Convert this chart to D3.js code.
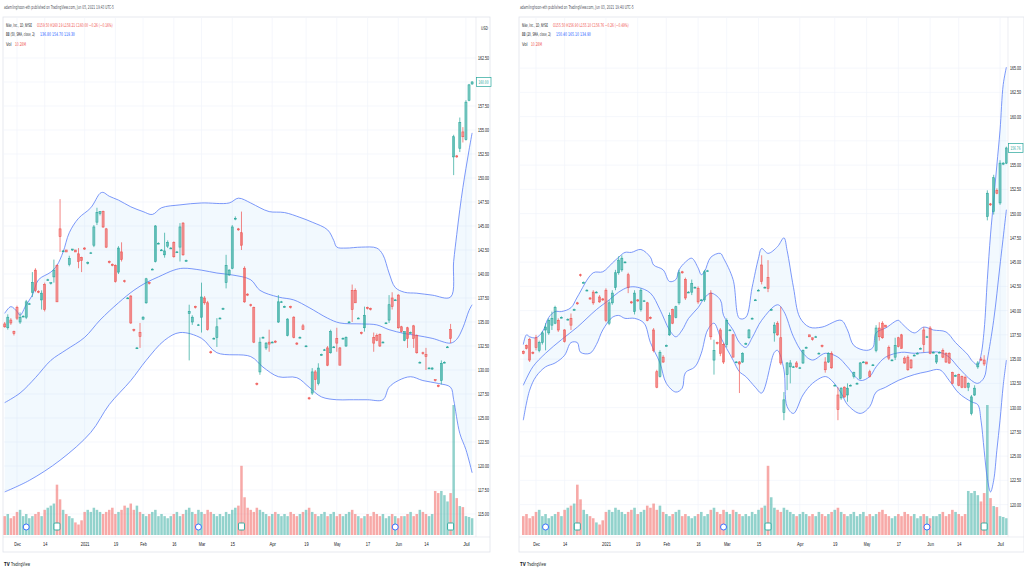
<!DOCTYPE html>
<html>
<head>
<meta charset="utf-8">
<script src="https://cdn.jsdelivr.net/npm/d3@7"></script>
<style>
body { margin: 0; background: #fff; }
svg { display: block; font-family: "Liberation Sans Narrow", "DejaVu Sans Condensed", Roboto, sans-serif; }
</style>
</head>
<body>
<svg id="chart" width="1024" height="576"></svg>
<script>
// ---- data ----
var tickLabels = ['Dec', '14', '2021', '19', 'Feb', '16', 'Mar', '15', 'Apr', '19', 'May', '17', 'Jun', '14', 'Jul'];
var tickBars = [4, 13, 26, 36, 45, 55, 64, 74, 87, 98, 108, 118, 128, 137, 150];
var dividendBars = [7, 63, 127];
var earningsBars = [17, 77, 145];

var leftPriceTicks = [115, 117.5, 120, 122.5, 125, 127.5, 130, 132.5, 135, 137.5, 140, 142.5, 145, 147.5, 150, 152.5, 155, 157.5, 160, 162.5];
var rightPriceTicks = [120, 122.5, 125, 127.5, 130, 132.5, 135, 137.5, 140, 142.5, 145, 147.5, 150, 152.5, 155, 157.5, 160, 162.5, 165];

// volume in millions, one per bar
var volume = [9, 10, 8, 9, 11, 12, 9, 10, 8, 9,
    10, 11, 9, 12, 13, 14, 15, 24, 17, 12,
    10, 9, 8, 6, 5, 7, 11, 12, 11, 13,
    12, 11, 10, 11, 12, 13, 10, 11, 12, 14,
    13, 15, 12, 14, 11, 10, 9, 10, 11, 12,
    9, 10, 9, 8, 9, 10, 11, 9, 10, 12,
    13, 11, 10, 12, 11, 10, 12, 11, 10, 9,
    10, 9, 11, 10, 12, 13, 14, 33, 18, 13,
    12, 11, 13, 12, 11, 10, 9, 10, 11, 10,
    9, 10, 9, 11, 10, 9, 10, 11, 12, 13,
    11, 10, 9, 10, 11, 9, 10, 11, 9, 10,
    9, 10, 11, 12, 10, 9, 8, 9, 10, 9,
    11, 10, 9, 10, 8, 9, 10, 9, 8, 9,
    9, 10, 11, 9, 10, 12, 11, 10, 9, 10,
    21, 20, 21, 19, 16, 20, 62, 17.6, 13.8, 13.3,
    9, 8.6, 8];

// [open, high, low, close]
var leftCandles = [
    [134.8,135.0,134.4,134.5],[134.4,135.8,134.2,135.5],[135.2,135.4,134.7,134.9],[134.0,134.1,133.6,133.8],[136.5,136.7,135.2,135.4],
    [135.0,136.0,134.8,135.5],[135.6,135.7,135.5,135.6],[135.5,137.3,135.3,137.1],[136.9,137.0,136.8,136.9],[138.1,140.2,137.6,139.1],
    [140.4,140.6,138.1,138.3],[138.2,138.3,138.0,138.1],[137.3,138.3,136.3,138.0],[138.9,139.1,136.1,136.3],[139.4,139.5,139.3,139.4],
    [139.0,139.1,138.9,139.1],[139.7,141.5,139.1,140.4],[140.9,141.0,137.1,137.1],[144.7,147.8,142.3,143.9],[142.4,142.5,142.3,142.4],
    [142.5,142.5,142.3,142.3],[141.0,141.9,140.8,141.6],[142.5,142.6,142.4,142.6],[142.5,142.5,142.3,142.3],[142.1,142.7,140.6,141.3],
    [141.7,141.8,140.2,141.4],[142.7,142.8,142.5,142.6],[141.1,141.3,141.0,141.2],[142.2,142.3,142.1,142.2],[143.0,145.1,142.8,144.9],
    [145.4,146.9,145.1,146.4],[146.3,146.5,146.1,146.5],[146.5,146.6,144.8,144.9],[144.7,144.8,142.7,142.8],[141.3,141.4,141.1,141.2],
    [141.0,141.1,140.8,140.9],[140.9,141.0,139.1,139.2],[140.2,142.9,140.0,142.7],[142.3,143.3,141.3,141.5],[139.3,139.4,139.1,139.2],
    [137.5,137.6,137.4,137.5],[137.7,137.8,134.8,134.9],[134.2,134.3,134.0,134.1],[132.3,132.4,132.2,132.3],[133.9,134.9,132.3,133.5],
    [135.3,135.6,135.2,135.5],[137.0,139.6,136.9,139.5],[139.1,139.2,138.9,139.0],[140.5,140.6,140.4,140.5],[141.3,145.1,141.2,145.0],
    [143.2,143.3,143.1,143.2],[142.5,142.6,142.4,142.5],[142.0,144.3,141.7,142.4],[142.9,143.5,142.7,143.3],[142.7,142.8,142.6,142.7],
    [143.3,143.4,141.7,141.8],[142.3,142.4,142.2,142.3],[142.8,145.3,141.3,144.9],[145.3,145.4,141.9,142.0],[141.4,141.5,141.3,141.4],
    [135.9,136.8,131.0,136.1],[135.0,135.7,134.7,135.5],[136.6,136.7,136.4,136.5],[134.7,134.8,134.6,134.7],[135.5,139.1,133.9,137.6],
    [137.5,137.7,136.8,137.0],[137.0,137.2,134.1,134.2],[131.9,132.0,131.7,131.8],[133.3,133.4,133.2,133.3],[133.4,135.4,132.4,134.5],
    [135.4,135.5,135.3,135.4],[136.4,136.5,136.3,136.4],[139.1,142.0,138.5,140.9],[139.9,140.5,139.8,140.4],[140.6,145.1,140.5,144.9],
    [145.8,146.0,145.6,145.8],[144.7,144.8,144.5,144.6],[144.3,146.5,142.5,143.0],[140.6,140.8,137.0,137.1],[137.9,138.0,137.7,137.8],
    [136.8,136.9,136.6,136.7],[136.5,136.6,132.8,132.9],[128.6,128.7,128.4,128.5],[129.8,133.4,129.5,132.9],[133.4,133.5,133.3,133.4],
    [132.3,132.9,132.1,132.8],[132.9,134.2,131.9,132.7],[132.9,133.0,132.8,132.9],[133.0,133.1,132.8,132.9],[135.0,137.8,134.9,137.1],
    [137.1,137.2,137.0,137.1],[136.6,136.7,136.5,136.6],[133.6,135.4,133.5,135.3],[136.6,136.7,136.4,136.5],[135.5,135.6,133.3,133.4],
    [132.8,132.9,132.6,132.7],[133.4,133.5,133.3,133.4],[134.6,134.8,134.2,134.2],[132.5,132.6,132.4,132.5],[127.1,127.2,126.9,127.0],
    [127.6,130.2,127.4,129.8],[129.8,130.0,127.9,129.0],[128.6,130.7,128.4,130.2],[131.6,131.7,131.5,131.6],[132.1,132.2,132.0,132.1],
    [132.3,132.5,130.4,130.5],[131.8,134.2,131.7,134.0],[132.4,132.5,132.3,132.4],[133.3,134.4,131.9,132.8],[132.3,132.4,130.5,130.5],
    [133.3,133.4,133.2,133.3],[132.5,133.5,132.4,133.4],[135.0,135.1,134.9,135.0],[138.3,138.9,135.0,136.3],[138.3,138.5,137.0,137.0],
    [135.4,135.5,135.3,135.4],[133.9,134.0,133.7,133.8],[134.4,136.6,134.0,135.7],[136.5,136.6,136.3,136.4],[136.4,136.5,136.2,136.3],
    [133.4,133.9,131.9,132.8],[133.6,133.8,133.0,133.1],[133.7,133.8,132.4,132.5],[132.9,133.0,132.8,132.9],[134.9,135.0,134.8,134.9],
    [135.2,137.8,134.9,136.8],[137.5,138.1,136.3,136.6],[137.3,137.4,137.2,137.3],[137.8,137.9,134.3,134.4],[134.5,134.6,133.9,134.0],
    [133.1,134.0,133.0,134.0],[134.4,134.5,132.3,133.3],[133.9,134.0,133.8,133.9],[134.6,134.7,132.3,133.3],[133.6,133.7,131.7,131.8],
    [130.8,130.9,130.7,130.8],[131.8,131.9,131.6,131.7],[131.6,132.3,130.0,131.4],[130.2,130.3,130.1,130.2],[130.1,130.3,130.0,130.2],
    [129.0,129.0,128.8,128.9],[128.4,128.5,128.2,128.3],[128.9,131.0,128.5,130.7],[130.8,130.9,130.7,130.8],[132.4,132.5,132.3,132.4],
    [134.2,134.8,132.8,133.3],[152.2,154.5,150.3,154.3],[152.3,152.4,152.1,152.2],[153.1,156.3,152.7,155.8],[154.8,155.3,153.7,154.3],
    [154.0,158.1,153.9,157.9],[158.1,159.8,158.0,159.7],[159.8,160.1,159.7,160.0]
];

var rightCandles = [
    [135.8,135.9,135.5,135.6],[136.4,136.5,136.0,136.1],[137.0,137.2,134.7,134.9],[135.7,135.8,135.5,135.6],[137.2,137.5,135.9,136.2],
    [135.9,136.9,135.7,136.7],[136.7,137.9,136.5,137.7],[138.0,138.7,135.9,138.3],[137.7,139.2,137.5,139.0],[138.5,139.9,138.0,139.2],
    [138.7,140.5,138.6,140.3],[139.0,139.2,137.8,138.0],[139.3,139.4,139.2,139.3],[138.0,138.1,136.7,136.8],[139.1,139.2,139.0,139.1],
    [139.2,139.7,138.0,138.5],[140.1,140.2,140.0,140.1],[140.8,140.9,140.6,140.7],[143.7,143.8,143.5,143.6],[142.9,143.0,142.8,142.9],
    [142.1,142.2,142.0,142.1],[141.3,141.4,141.1,141.2],[141.9,142.1,140.6,140.8],[141.9,142.0,141.8,141.9],[141.4,141.6,140.8,140.9],
    [141.2,141.3,141.0,141.1],[142.1,142.3,138.8,139.0],[138.7,141.1,138.5,140.8],[140.8,142.1,140.6,141.8],[142.4,144.2,142.1,143.9],
    [143.9,145.6,143.7,145.2],[144.2,145.7,144.0,145.4],[145.0,145.1,144.9,145.0],[143.7,143.9,141.8,142.4],[140.9,141.0,140.7,140.8],
    [139.9,142.1,139.6,141.8],[141.1,141.2,140.9,141.0],[140.1,142.3,139.9,142.1],[141.0,141.1,140.9,141.0],[140.8,140.9,138.9,139.0],
    [139.3,139.4,139.1,139.2],[138.0,138.2,135.7,135.9],[133.7,133.9,132.0,132.1],[133.2,135.9,133.1,135.7],[135.2,135.4,134.6,134.7],
    [136.4,136.5,136.3,136.4],[137.5,139.8,137.4,139.5],[140.1,140.2,138.6,138.7],[139.3,140.5,139.2,140.4],[140.8,144.2,140.6,143.9],
    [144.0,144.1,143.8,143.9],[143.2,143.4,141.1,141.3],[141.9,142.0,141.8,141.9],[141.9,143.2,141.6,142.8],[142.4,142.5,142.3,142.4],
    [142.3,142.5,140.7,140.9],[141.1,141.2,141.0,141.1],[141.1,144.2,140.9,144.0],[144.1,144.2,144.0,144.1],[141.8,142.1,137.0,137.3],
    [134.9,137.0,133.4,135.9],[136.7,136.8,136.5,136.6],[138.0,138.2,135.3,135.6],[136.5,136.7,134.5,134.7],[136.5,139.2,136.2,139.0],
    [138.0,138.1,137.9,138.0],[137.5,137.6,135.2,135.2],[134.7,134.8,134.6,134.7],[134.7,134.8,131.5,134.5],[134.7,135.7,134.6,135.6],
    [136.6,136.7,136.5,136.6],[137.2,138.1,137.1,138.0],[139.2,139.3,139.1,139.2],[141.1,141.2,141.0,141.1],[142.1,142.2,142.0,142.1],
    [144.7,145.7,142.7,143.0],[142.4,142.5,142.3,142.4],[143.4,145.2,141.9,142.3],[140.1,140.2,140.0,140.1],[137.7,138.8,136.8,138.5],
    [138.7,138.9,137.4,137.5],[137.2,140.4,134.4,134.6],[129.5,131.6,128.7,130.8],[133.4,134.7,131.8,134.6],[134.2,134.9,132.5,134.6],
    [134.2,134.3,134.1,134.2],[134.6,134.8,134.1,134.2],[134.1,134.2,134.0,134.1],[134.6,136.0,134.5,135.9],[136.2,136.3,136.1,136.2],
    [137.5,137.5,137.3,137.3],[137.2,137.2,136.9,137.0],[137.3,137.4,137.2,137.3],[135.6,135.7,135.5,135.6],[136.4,136.5,136.2,136.3],
    [134.7,135.2,133.6,133.9],[134.7,135.7,134.6,135.6],[135.6,135.8,134.0,134.1],[132.3,132.4,132.2,132.3],[131.3,132.1,128.7,129.8],
    [131.0,132.1,130.8,132.0],[132.1,132.2,131.0,131.1],[131.3,132.5,130.6,132.0],[132.3,132.4,132.2,132.3],[133.2,133.7,133.0,133.6],
    [132.5,132.6,132.4,132.5],[133.0,134.7,132.9,134.6],[134.7,134.8,134.6,134.7],[134.7,134.7,134.5,134.5],[133.7,133.9,133.1,133.2],
    [134.4,134.5,134.3,134.4],[135.9,138.5,135.7,138.2],[138.2,138.8,136.9,137.3],[138.7,138.9,137.1,137.2],[138.5,138.5,138.3,138.3],
    [136.2,136.4,134.9,135.1],[134.9,135.0,134.8,134.9],[135.2,137.2,134.9,136.4],[137.2,137.3,136.2,136.3],[137.5,137.6,136.1,136.1],
    [135.1,135.3,134.5,134.6],[135.2,135.4,133.8,133.9],[134.9,135.0,134.0,134.1],[135.4,135.5,135.3,135.4],[135.6,135.7,135.5,135.6],
    [136.1,136.2,136.0,136.1],[138.0,138.3,135.7,136.5],[137.3,137.4,137.2,137.3],[138.2,138.4,135.5,135.6],[135.7,135.8,135.6,135.7],
    [134.7,135.5,134.5,135.4],[135.7,135.8,135.6,135.7],[135.9,136.1,135.1,135.2],[135.6,135.7,134.6,134.7],[135.6,135.7,134.5,134.6],
    [133.6,133.7,132.4,132.5],[133.3,133.4,133.2,133.3],[133.4,133.5,132.2,132.3],[133.2,133.3,132.0,132.1],[133.1,133.3,132.0,132.1],
    [132.1,132.6,131.7,132.5],[129.4,131.3,129.2,131.1],[131.3,132.3,131.2,132.0],[134.2,134.8,134.0,134.6],[135.0,135.2,134.8,134.9],
    [134.9,135.4,134.3,134.5],[149.7,152.4,149.3,152.1],[151.0,151.1,150.8,150.9],[150.2,154.0,149.9,153.7],[152.4,152.6,152.0,152.1],
    [151.1,155.5,150.9,155.2],[155.1,155.3,155.0,155.2],[155.2,156.9,155.1,156.76]
];

// Bollinger band key points: [bar, price]
var leftUpper = [[0,135.9],[2,136.6],[4,136.1],[5,135.7],[7,136.8],[9,137.8],[11,139.4],[15,140.2],[17,140.9],[19,142.3],[21,144.3],[24,145.8],[28,146.9],[31,148.4],[32,148.5],[34,148.1],[37,147.7],[41,147.0],[45,146.5],[48,146.2],[51,146.9],[57,147.2],[64,147.4],[73,147.4],[76,147.9],[80,147.4],[83,146.9],[86,146.5],[91,146.4],[96,145.9],[100,145.4],[105,144.6],[107,143.5],[108,142.8],[111,142.7],[116,142.8],[121,142.7],[123,142.0],[125,140.1],[127,138.6],[130,138.1],[134,138.0],[139,137.8],[145,137.6],[146,141.3],[147,144.1],[148,146.7],[149,149.0],[150,151.0],[151,152.9],[152,154.7]];
var leftMiddle = [[0,126.6],[5,127.6],[10,129.2],[15,131.0],[20,132.1],[26,133.4],[31,135.2],[37,137.0],[42,138.3],[46,139.1],[50,139.7],[55,140.4],[58,140.6],[64,140.4],[69,140.1],[74,139.9],[80,139.4],[83,138.3],[89,137.6],[94,137.3],[99,136.5],[105,135.4],[109,134.9],[116,134.8],[121,134.7],[125,134.2],[130,133.8],[134,133.6],[139,133.3],[145,132.8],[147,133.2],[149,134.4],[151,136.2],[152,136.8]];
var leftLower = [[0,117.3],[8,118.5],[18,120.6],[28,123.5],[34,126.4],[41,128.9],[46,131.0],[52,133.1],[57,133.9],[64,133.3],[69,131.8],[80,131.4],[84,130.3],[89,129.3],[95,129.2],[99,128.2],[103,127.2],[108,126.9],[112,126.9],[118,126.9],[123,126.9],[125,128.2],[128,128.9],[132,129.3],[136,128.9],[141,128.6],[145,128.2],[146,126.9],[148,123.4],[150,121.7],[152,119.3]];

var rightUpper = [[0,136.5],[1,137.5],[2,137.3],[4,137.2],[6,137.8],[8,139.3],[10,139.9],[12,139.9],[15,140.3],[17,141.4],[22,143.9],[25,144.0],[28,144.9],[30,145.5],[32,146.0],[34,146.0],[37,146.3],[40,145.5],[41,144.7],[44,144.2],[46,143.0],[48,143.2],[49,144.2],[51,145.0],[53,145.4],[55,144.4],[56,143.7],[57,144.0],[59,145.5],[62,145.9],[63,145.4],[66,143.2],[68,139.2],[70,139.3],[72,142.4],[74,145.4],[75,146.4],[77,145.9],[80,146.6],[82,147.5],[83,146.2],[85,142.4],[87,139.3],[90,138.3],[94,138.3],[100,139.0],[102,138.0],[104,136.4],[108,135.9],[110,136.2],[111,137.7],[114,138.2],[118,139.0],[119,138.7],[123,137.7],[126,138.3],[129,138.0],[133,137.8],[136,136.7],[140,135.4],[141,134.9],[143,134.4],[144,135.4],[145,138.0],[146,143.2],[147,147.8],[148,151.4],[149,155.0],[150,158.6],[151,163.3],[152,165.1]];
var rightMiddle = [[0,132.3],[3,134.2],[7,135.6],[12,137.0],[17,138.3],[23,140.1],[27,141.1],[30,141.9],[33,142.4],[36,142.4],[40,141.8],[43,140.1],[46,138.0],[48,137.3],[50,138.0],[52,139.2],[55,140.3],[57,141.3],[59,141.8],[62,141.1],[63,139.5],[66,138.0],[68,136.7],[70,136.2],[72,137.2],[75,139.0],[80,140.6],[82,139.9],[85,137.3],[88,135.6],[91,134.9],[95,135.6],[99,135.2],[102,134.2],[106,132.8],[109,133.2],[111,134.2],[114,135.2],[119,135.7],[123,135.6],[127,135.7],[131,135.7],[134,135.2],[137,134.1],[141,132.8],[143,132.5],[145,133.1],[146,134.9],[148,139.0],[150,144.7],[152,150.4]];
var rightLower = [[0,128.7],[2,131.8],[4,133.2],[7,134.2],[10,134.6],[13,135.4],[15,136.7],[17,136.7],[18,135.7],[21,135.6],[23,136.5],[25,138.0],[28,139.3],[30,139.5],[32,139.2],[35,139.2],[38,138.7],[40,136.7],[43,134.6],[45,132.5],[48,131.6],[50,132.0],[51,133.6],[54,134.2],[56,135.6],[58,138.0],[60,138.7],[62,137.3],[66,134.9],[68,133.7],[70,133.2],[73,132.1],[75,131.5],[79,135.7],[80,135.9],[82,133.9],[83,130.1],[85,129.4],[88,131.3],[91,132.5],[95,133.2],[97,132.8],[100,131.5],[102,130.3],[106,129.4],[109,130.1],[111,131.6],[114,132.1],[118,132.8],[123,133.4],[127,133.7],[131,133.9],[134,132.8],[137,131.5],[141,130.6],[143,130.3],[144,128.7],[145,125.6],[146,122.7],[147,121.3],[148,122.5],[149,125.6],[150,128.7],[151,132.3],[152,134.9]];

// ---- colours ----
var col_up = '#26a69a';
var col_down = '#ef5350';
var col_upFill = 'rgba(38,166,154,0.28)';
var col_downFill = 'rgba(239,83,80,0.28)';
var col_upVol = 'rgba(38,166,154,0.5)';
var col_downVol = 'rgba(239,83,80,0.5)';
var col_band = '#5a7ef8';
var col_bandFill = 'rgba(33,150,243,0.06)';
var col_grid = '#f0f3fa';
var col_border = '#e0e3eb';
var col_text = '#131722';
var col_blue = '#2962ff';

var svg = d3.select('#chart');

// the reference uses a narrow face: texts are scaled horizontally to the width seen there
function putText(g, x, y, str, w, color, size) {
    var holder = g.append('g');
    var t = holder.append('text')
        .attr('x', 0).attr('y', 0)
        .style('font-size', (size || 5) + 'px')
        .style('fill', color)
        .text(str);
    var nat = t.node().getComputedTextLength() || w;
    holder.attr('transform', 'translate(' + x + ',' + y + ') scale(' + (w / nat) + ',1)');
    return t;
}

// same for texts made by a d3 axis
function narrowAxisText(sel, w, shift) {
    sel.each(function() {
        var nat = this.getComputedTextLength() || w;
        var width = typeof w === 'function' ? w(this) : w;
        d3.select(this).attr('x', 0)
            .attr('transform', 'translate(' + shift + ',0) scale(' + (width / nat) + ',1)');
    });
}

function drawPanel(cfg) {
    var g = svg.append('g');
    var x = d3.scaleLinear().domain([0, 152]).range(cfg.xRange);
    var y = d3.scaleLinear().domain(cfg.yDomain).range(cfg.yRange);
    var volH = d3.scaleLinear().domain([0, 62]).range([0, 130]);
    var volBase = 535;
    var x0 = cfg.frame[0];

    svg.append('clipPath').attr('id', 'clip-' + cfg.id)
        .append('rect')
        .attr('x', cfg.frame[0]).attr('y', cfg.frame[1])
        .attr('width', cfg.plotRight - cfg.frame[0]).attr('height', 537 - cfg.frame[1]);

    // caption above the frame
    putText(g, x0 + 1, 9, cfg.caption, cfg.captionW, '#50535e', 5.5);

    // frame
    g.append('rect')
        .attr('x', cfg.frame[0]).attr('y', cfg.frame[1])
        .attr('width', cfg.frame[2] - cfg.frame[0]).attr('height', cfg.frame[3] - cfg.frame[1])
        .attr('fill', '#fff').attr('stroke', col_border).attr('stroke-width', 0.8);

    // grid
    var grid = g.append('g').attr('clip-path', 'url(#clip-' + cfg.id + ')');
    grid.selectAll('line.h').data(cfg.priceTicks).join('line')
        .attr('x1', cfg.frame[0]).attr('x2', cfg.plotRight)
        .attr('y1', function(d) { return y(d); }).attr('y2', function(d) { return y(d); })
        .attr('stroke', col_grid).attr('stroke-width', 0.7);
    grid.selectAll('line.v').data(tickBars).join('line')
        .attr('x1', function(d) { return x(d); }).attr('x2', function(d) { return x(d); })
        .attr('y1', cfg.frame[1]).attr('y2', 537)
        .attr('stroke', col_grid).attr('stroke-width', 0.7);

    var plot = g.append('g').attr('clip-path', 'url(#clip-' + cfg.id + ')');

    // band fill and lines
    var line = d3.line()
        .x(function(d) { return x(d[0]); })
        .y(function(d) { return y(d[1]); })
        .curve(d3.curveCatmullRom.alpha(0.5));
    var fillPath = line(cfg.upper) + 'L' + line(cfg.lower.slice().reverse()).slice(1) + 'Z';
    plot.append('path').attr('d', fillPath).attr('fill', col_bandFill).attr('stroke', 'none');

    // volume
    plot.selectAll('rect.vol').data(volume).join('rect')
        .attr('x', function(d, i) { return x(i) - cfg.volW / 2; })
        .attr('width', cfg.volW)
        .attr('y', function(d) { return volBase - volH(d); })
        .attr('height', function(d) { return volH(d); })
        .attr('fill', function(d, i) {
            var c = cfg.candles[i];
            return c[3] >= c[0] ? col_upVol : col_downVol;
        });

    [cfg.upper, cfg.middle, cfg.lower].forEach(function(b) {
        plot.append('path').attr('d', line(b))
            .attr('fill', 'none').attr('stroke', col_band).attr('stroke-width', 0.8);
    });

    // candles
    plot.selectAll('line.wick').data(cfg.candles).join('line')
        .attr('x1', function(d, i) { return x(i); }).attr('x2', function(d, i) { return x(i); })
        .attr('y1', function(d) { return y(d[1]); }).attr('y2', function(d) { return y(d[2]); })
        .attr('stroke', function(d) { return d[3] >= d[0] ? col_up : col_down; })
        .attr('stroke-width', 0.7);
    plot.selectAll('rect.body').data(cfg.candles).join('rect')
        .attr('x', function(d, i) { return x(i) - 1; })
        .attr('width', 2)
        .attr('y', function(d) { return y(Math.max(d[0], d[3])); })
        .attr('height', function(d) { return Math.max(0.8, Math.abs(y(d[0]) - y(d[3]))); })
        .attr('fill', function(d) { return d[3] >= d[0] ? col_upFill : col_downFill; })
        .attr('stroke', function(d) { return d[3] >= d[0] ? col_up : col_down; })
        .attr('stroke-width', 0.6);

    // dividends / earnings markers
    g.selectAll('circle.div').data(dividendBars).join('circle')
        .attr('cx', function(d) { return x(d); }).attr('cy', 527).attr('r', 3)
        .attr('fill', '#fff').attr('stroke', col_blue).attr('stroke-width', 0.9);
    g.selectAll('rect.earn').data(earningsBars).join('rect')
        .attr('x', function(d) { return x(d) - 3; }).attr('y', 523).attr('width', 6).attr('height', 7)
        .attr('rx', 1)
        .attr('fill', '#fff').attr('stroke', col_up).attr('stroke-width', 0.9);

    // pane separators
    g.append('line').attr('x1', cfg.plotRight).attr('x2', cfg.plotRight)
        .attr('y1', cfg.frame[1]).attr('y2', 537).attr('stroke', col_border).attr('stroke-width', 0.6);
    g.append('line').attr('x1', cfg.frame[0]).attr('x2', cfg.frame[2])
        .attr('y1', 537).attr('y2', 537).attr('stroke', col_border).attr('stroke-width', 0.6);

    // price axis
    var last = cfg.candles[cfg.candles.length - 1][3];
    var lastY = y(last);
    var shownTicks = cfg.priceTicks.filter(function(d) { return Math.abs(y(d) - lastY) > 9; });
    var yAxis = d3.axisRight(y).tickValues(shownTicks).tickFormat(d3.format('.2f')).tickSize(0).tickPadding(2);
    var ya = g.append('g').attr('transform', 'translate(' + cfg.plotRight + ',0)').call(yAxis);
    ya.select('.domain').remove();
    ya.selectAll('text').style('font-size', '5px').style('fill', col_text).style('font-family', null)
        .call(narrowAxisText, 11, 2);

    // last price label
    g.append('rect')
        .attr('x', cfg.plotRight + 0.5).attr('y', lastY - 4.5).attr('width', 14.5).attr('height', 9)
        .attr('fill', '#fff').attr('stroke', col_up).attr('stroke-width', 0.7);
    putText(g, cfg.plotRight + 2.5, lastY + 1.8, d3.format('.2f')(last), 10, col_up, 5);

    // time axis
    var xAxis = d3.axisBottom(x).tickValues(tickBars)
        .tickFormat(function(d, i) { return tickLabels[i]; })
        .tickSize(0).tickPadding(4);
    var xa = g.append('g').attr('transform', 'translate(0,538)').call(xAxis);
    xa.select('.domain').remove();
    xa.selectAll('text').style('font-size', '5px').style('fill', col_text).style('font-family', null)
        .call(narrowAxisText, function(node) { return node.textContent.length * 2.2; }, 0);

    // legend: label and values as separate texts
    putText(g, x0 + 3, 27, 'Nike, Inc., 1D, NYSE', 26, col_text);
    putText(g, x0 + 34, 27, cfg.ohlcText, 76, col_down);
    putText(g, x0 + 3, 36, cfg.bbText, 29, col_text);
    putText(g, x0 + 37, 36, cfg.bbValues, 35, col_blue);
    putText(g, x0 + 3, 46, 'Vol', 5.5, col_text);
    putText(g, x0 + 12, 46, cfg.volText, 11, col_down);

    if (cfg.currency) {
        putText(g, cfg.plotRight + 5, 30, cfg.currency, 7, col_text);
    }

    // footer logo
    putText(g, x0 + 1, 566, 'TV', 5, col_text, 5.5).style('font-weight', 'bold');
    putText(g, x0 + 8, 566, 'TradingView', 19, col_text, 5.5);
}

drawPanel({
    id: 'left',
    caption: 'adamlinghoon-eth published on TradingView.com, Jun 05, 2021 19:43 UTC-5',
    captionW: 110,
    frame: [3, 17, 490, 552],
    plotRight: 476,
    xRange: [4.7, 472.1],
    yDomain: [115, 162.5],
    yRange: [514, 58],
    priceTicks: leftPriceTicks,
    candles: leftCandles,
    upper: leftUpper, middle: leftMiddle, lower: leftLower,
    volW: 2.5,
    ohlcText: 'O159.50 H160.19 L158.21 C160.00 −0.26 (−0.16%)',
    bbText: 'BB (50, SMA, close, 2)',
    bbValues: '136.80 154.70 119.30',
    volText: '10.28M',
    currency: 'USD'
});

drawPanel({
    id: 'right',
    caption: 'adamlinghoon-eth published on TradingView.com, Jun 03, 2021 19:40 UTC-5',
    captionW: 114,
    frame: [519, 17, 1024, 552],
    plotRight: 1008,
    xRange: [523.3, 1006.4],
    yDomain: [120, 165],
    yRange: [(172.02 - 120) * 9.7, (172.02 - 165) * 9.7],
    priceTicks: rightPriceTicks,
    candles: rightCandles,
    upper: rightUpper, middle: rightMiddle, lower: rightLower,
    volW: 2.6,
    ohlcText: 'O155.50 H156.90 L155.10 C156.76 −0.26 (−0.49%)',
    bbText: 'BB (20, SMA, close, 2)',
    bbValues: '150.40 165.10 134.90',
    volText: '10.28M',
    currency: null
});
</script>
</body>
</html>
